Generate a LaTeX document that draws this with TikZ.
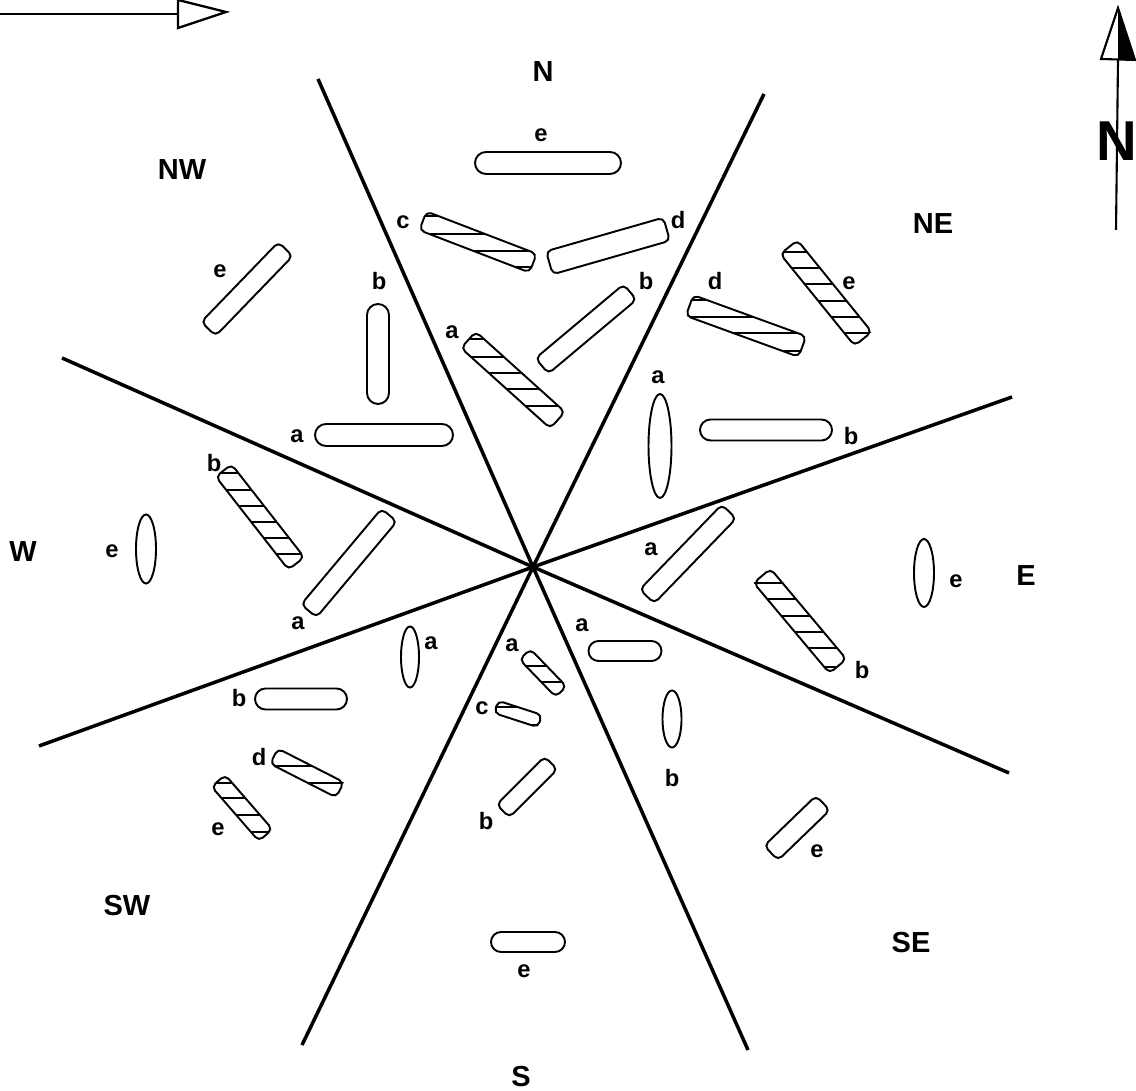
\documentclass[tikz,border=0pt]{standalone}
\usepackage{fontspec}
\setmainfont{Liberation Sans}
\usetikzlibrary{calc,shapes.misc,shapes.geometric}

\tikzset{
  size/.style 2 args={minimum width=#1*.02cm,minimum height=#2*.02cm},
  pill/.style={draw,line width=1.1pt,rounded rectangle,inner sep=0pt,outer sep=0pt},
  oval/.style={draw,line width=1.1pt,ellipse,inner sep=0pt,outer sep=0pt},
  slab/.style={draw,line width=1.1pt,rounded corners=3pt,inner sep=0pt,outer sep=0pt},
  sector/.style={line width=2pt},
  hatch/.style={line width=1pt},
  tag/.style={font=\bfseries\fontsize{13.5}{14}\selectfont,inner sep=0pt},
  compass/.style={font=\bfseries\fontsize{16.5}{17}\selectfont,inner sep=0pt}
}
% horizontal hatching of a slab, offsets from its centre
\newcommand{\hatchlines}[2]{
  \begin{scope}
    \clip (#1.north west) -- (#1.north east) -- (#1.south east) -- (#1.south west) -- cycle;
    \foreach \d in {#2}
      \draw[hatch] ($(#1)+(-90,\d)$) -- ($(#1)+(90,\d)$);
  \end{scope}
}

\begin{document}
\begin{tikzpicture}[x=.02cm,y=.02cm]
\useasboundingbox (0,0) rectangle (1136,1091);

% sector lines
\coordinate (hub) at (533,524);
\coordinate (nnw) at (318,1012);
\coordinate (sse) at (748,41);
\coordinate (nne) at (764,997);
\coordinate (ssw) at (302,46);
\coordinate (wnw) at (62,733);
\coordinate (ese) at (1009,318);
\coordinate (ene) at (1012,694);
\coordinate (wsw) at (39,345);
\draw[sector] (nnw) -- (hub) -- (sse);
\draw[sector] (nne) -- (hub) -- (ssw);
\draw[sector] (wnw) -- (hub) -- (ese);
\draw[sector] (ene) -- (hub) -- (wsw);

% N
\node[pill,size={146}{22}] (nE) at (548,928) {};
\node[slab,size={118}{20},rotate=-21] (nC) at (478,849) {};
\node[slab,size={122}{24},rotate=16] (nD) at (608,845) {};
\node[slab,size={115}{20},rotate=40] (nB) at (586,762) {};
\node[slab,size={120}{22},rotate=-42] (nA) at (513,711) {};
\hatchlines{nC}{8,-9,26,-25}
\hatchlines{nA}{23,7,-9,-26,41}

% NE
\node[slab,size={120}{22},rotate=-20] (neD) at (746,765) {};
\node[slab,size={118}{22},rotate=-51] (neE) at (826,798) {};
\node[oval,size={104}{23},rotate=90] (neA) at (660,645) {};
\node[pill,size={132}{21}] (neB) at (766,661) {};
\hatchlines{neD}{9,-7,26,-25}
\hatchlines{neE}{41,25,9,-8,-24,-40}

% E
\node[slab,size={118}{20},rotate=46] (eA) at (688,537) {};
\node[slab,size={118}{22},rotate=-50] (eB) at (800,470) {};
\node[oval,size={68}{20},rotate=90] (eE) at (924,518) {};
\hatchlines{eB}{38,22,5,-11,-27,-46}

% W
\node[slab,size={118}{20},rotate=-52] (wB) at (260,574) {};
\node[slab,size={125}{20},rotate=50] (wA) at (349,528) {};
\node[oval,size={69}{20},rotate=90] (wE) at (146,542) {};
\hatchlines{wB}{44,27,11,-5,-21,-37}

% NW
\node[pill,size={138}{22}] (nwA) at (384,656) {};
\node[pill,size={100}{22},rotate=90] (nwB) at (378,737) {};
\node[slab,size={111}{20},rotate=46] (nwE) at (247,802) {};

% SW
\node[oval,size={61}{18},rotate=90] (swA) at (410,434) {};
\node[pill,size={92}{21}] (swB) at (301,392) {};
\node[slab,size={74}{17},rotate=-27] (swD) at (307,318) {};
\node[slab,size={72}{18},rotate=-49] (swE) at (242,283) {};
\hatchlines{swD}{7,-10}
\hatchlines{swE}{25,10,-7,-24}

% S
\node[slab,size={52}{15},rotate=-46] (sA) at (543,418) {};
\node[slab,size={46}{13},rotate=-18] (sC) at (518,377) {};
\node[slab,size={68}{18},rotate=45] (sB) at (527,304) {};
\node[pill,size={74}{20}] (sE) at (528,149) {};
\hatchlines{sA}{7,-9}
\hatchlines{sC}{7,-11}

% SE
\node[pill,size={73}{20}] (seA) at (625,440) {};
\node[oval,size={57}{19},rotate=90] (seB) at (672,372) {};
\node[slab,size={72}{20},rotate=44] (seE) at (797,263) {};

% compass labels
\node[compass] (lN) at (543,1019) {N};
\node[compass] (lNW) at (182,921) {NW};
\node[compass] (lNE) at (933,867) {NE};
\node[compass] (lW) at (23,539) {W};
\node[compass] (lE) at (1026,515) {E};
\node[compass] (lSW) at (127,185) {SW};
\node[compass] (lSE) at (911,148) {SE};
\node[compass] (lS) at (521,14) {S};

% bar labels
\node[tag] (tnE) at (541,956) {e};
\node[tag] (tnC) at (403,869) {c};
\node[tag] (tnD) at (678,871) {d};
\node[tag] (tnB) at (646,810) {b};
\node[tag] (tnA) at (452,759) {a};
\node[tag] (tneD) at (715,810) {d};
\node[tag] (tneE) at (849,808) {e};
\node[tag] (tneA) at (658,714) {a};
\node[tag] (tneB) at (851,655) {b};
\node[tag] (teA) at (651,542) {a};
\node[tag] (teB) at (862,421) {b};
\node[tag] (teE) at (956,510) {e};
\node[tag] (twB) at (214,628) {b};
\node[tag] (twA) at (298,468) {a};
\node[tag] (twE) at (112,540) {e};
\node[tag] (tnwA) at (297,655) {a};
\node[tag] (tnwB) at (379,810) {b};
\node[tag] (tnwE) at (220,820) {e};
\node[tag] (tswA) at (431,448) {a};
\node[tag] (tswB) at (239,393) {b};
\node[tag] (tswD) at (259,334) {d};
\node[tag] (tswE) at (218,262) {e};
\node[tag] (tsA) at (512,446) {a};
\node[tag] (tsC) at (482,383) {c};
\node[tag] (tsB) at (486,270) {b};
\node[tag] (tsE) at (524,120) {e};
\node[tag] (tseA) at (582,466) {a};
\node[tag] (tseB) at (672,313) {b};
\node[tag] (tseE) at (817,240) {e};

% wind arrow
\coordinate (windA) at (0,1077);
\coordinate (windB) at (178,1077);
\coordinate (windC) at (178,1091);
\coordinate (windD) at (226,1079);
\coordinate (windE) at (178,1063);
\draw[line width=1.3pt] (windA) -- (windB);
\draw[line width=1.3pt] (windC) -- (windD) -- (windE) -- cycle;

% north arrow
\node[font=\bfseries\fontsize{32}{33}\selectfont,inner sep=0pt] (northN) at (1117,950) {N};
\coordinate (tipN) at (1118,1083);
\coordinate (baseL) at (1101,1032);
\coordinate (baseM) at (1118,1031);
\coordinate (baseR) at (1135,1031);
\coordinate (tailN) at (1116,861);
\fill (tipN) -- (baseM) -- (baseR) -- cycle;
\draw[line width=1.2pt] (tipN) -- (baseL) -- (baseR) -- cycle;
\draw[line width=1.2pt] (baseM) -- (tailN);
\end{tikzpicture}
\end{document}
